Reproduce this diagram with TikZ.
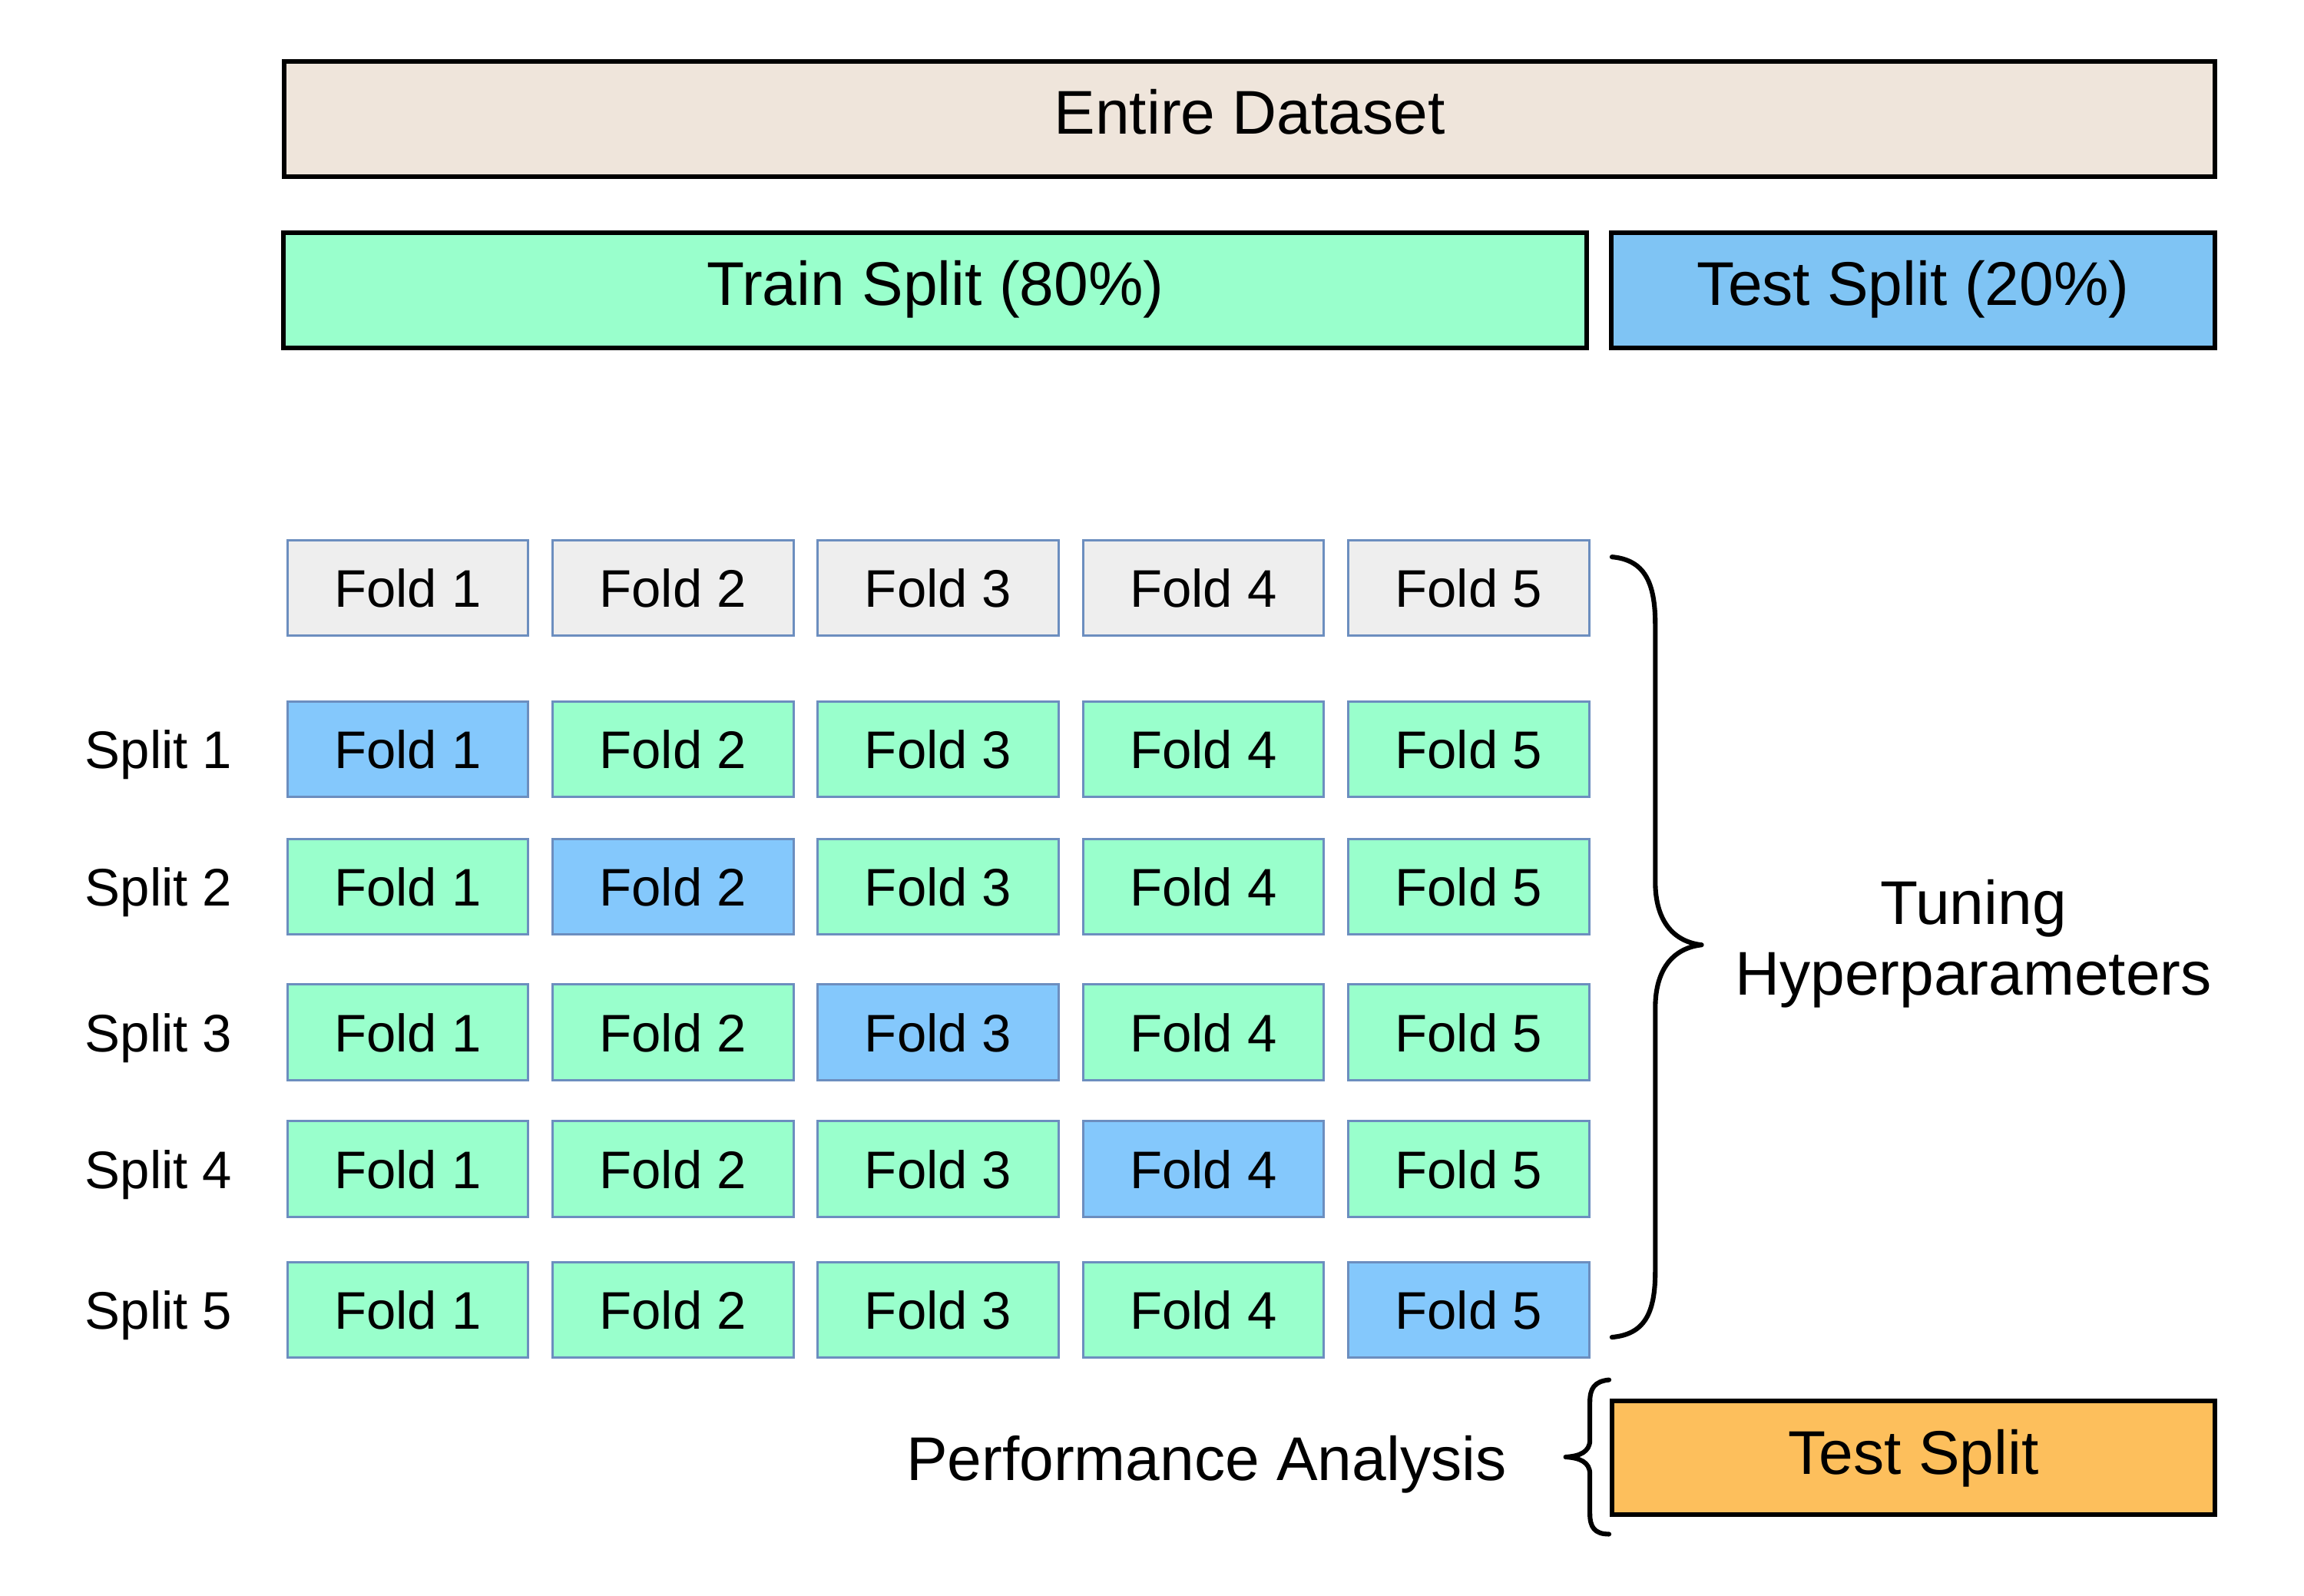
\documentclass[tikz,border=0pt]{standalone}
\usepackage{fontspec}
\setmainfont{Liberation Sans}
\definecolor{beige}{HTML}{EFE5DB}
\definecolor{mint}{HTML}{99FFCC}
\definecolor{testblue}{HTML}{7FC4F4}
\definecolor{foldblue}{HTML}{84C8FC}
\definecolor{foldgray}{HTML}{EEEEEE}
\definecolor{foldline}{HTML}{6C8EBF}
\definecolor{orangebox}{HTML}{FDBF5C}
\begin{document}
\begin{tikzpicture}[x=1pt,y=-1pt,
  bigbox/.style={draw=black,line width=3.2pt,font=\fontsize{42}{48}\selectfont,inner sep=0pt,minimum height=78.5pt,text height=30.5pt,text depth=10pt},
  fold/.style={draw=foldline,line width=1.6pt,minimum width=164pt,minimum height=65pt,font=\fontsize{36}{40}\selectfont,inner sep=0pt,text height=26.2pt,text depth=0pt},
  trainfold/.style={fold,fill=mint},
  valfold/.style={fold,fill=foldblue},
  headfold/.style={fold,fill=foldgray},
  splitlabel/.style={font=\fontsize{36}{40}\selectfont,inner sep=0pt,text height=26.2pt,text depth=0pt},
  bigtext/.style={font=\fontsize{42}{48}\selectfont,inner sep=0pt},
  bracepath/.style={draw=black,line width=3.2pt,line cap=round,line join=round}]
\useasboundingbox (0,0) rectangle (1568,1086.1);
\fill[white] (0,0) rectangle (1568,1086.1);

\node[bigbox,fill=beige,minimum width=1314pt] (entire) at (850.5,81) {Entire Dataset};
\node[bigbox,fill=mint,minimum width=887pt] (train) at (636.5,197.7) {Train Split (80\%)};
\node[bigbox,fill=testblue,minimum width=411pt] (test) at (1302,197.7) {Test Split (20\%)};

% header row
\foreach \i/\x in {1/277.5,2/458,3/638.5,4/819,5/999.5}{
  \node[headfold] (h\i) at (\x,400) {Fold \i};
}
% split rows
\foreach \r/\y in {1/510,2/603.5,3/702.5,4/795.5,5/891.5}{
  \node[splitlabel] (s\r) at (108,\y) {Split \r};
  \foreach \i/\x in {1/277.5,2/458,3/638.5,4/819,5/999.5}{
    \ifnum\i=\r
      \node[valfold] (f\r\i) at (\x,\y) {Fold \i};
    \else
      \node[trainfold] (f\r\i) at (\x,\y) {Fold \i};
    \fi
  }
}

% big brace
\draw[bracepath] (1097,379) .. controls (1119,381) and (1126.5,396) .. (1126.5,425)
  -- (1126.5,600) .. controls (1126.5,628) and (1140,641) .. (1158,643)
  .. controls (1140,645) and (1126.5,658) .. (1126.5,686)
  -- (1126.5,865) .. controls (1126.5,894) and (1119,908) .. (1097,910);
\node[bigtext,align=center] (tuning) at (1343,642) {Tuning\\Hyperparameters};

% final test split
\node[bigbox,fill=orangebox,minimum width=410.5pt,minimum height=77pt,text depth=8pt] (final) at (1302.3,992) {Test Split};
\draw[bracepath] (1095,939) .. controls (1085,940) and (1082,945) .. (1082,954)
  -- (1082,980) .. controls (1082,988) and (1075,991) .. (1065.5,991.5)
  .. controls (1075,992) and (1082,995) .. (1082,1003)
  -- (1082,1030) .. controls (1082,1039) and (1085,1044) .. (1095,1044);
\node[bigtext,text height=30.5pt,text depth=0pt] (perf) at (821,992) {Performance Analysis};
\end{tikzpicture}
\end{document}
